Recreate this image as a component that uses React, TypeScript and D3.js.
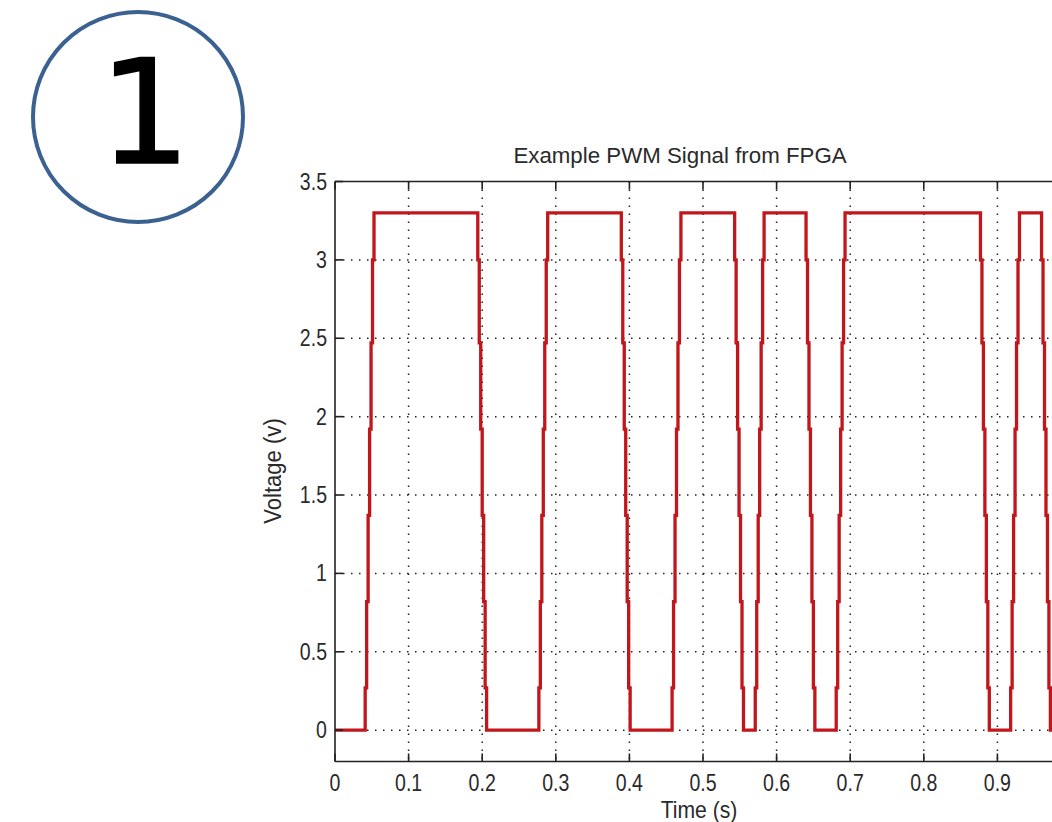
import * as d3 from 'd3';

// sample times (s) and voltage levels (v) of the PWM staircase
const times = [
  0,
  0.041, 0.043, 0.045, 0.047, 0.049, 0.051, 0.053,
  0.194, 0.196, 0.198, 0.200, 0.202, 0.204, 0.206,
  0.277, 0.279, 0.281, 0.283, 0.285, 0.287, 0.289,
  0.389, 0.391, 0.393, 0.395, 0.397, 0.399, 0.401,
  0.458, 0.460, 0.462, 0.464, 0.466, 0.468, 0.470,
  0.543, 0.545, 0.547, 0.549, 0.551, 0.553, 0.555,
  0.571, 0.573, 0.575, 0.577, 0.579, 0.581, 0.583,
  0.640, 0.642, 0.644, 0.646, 0.648, 0.650, 0.652,
  0.681, 0.683, 0.685, 0.687, 0.689, 0.691, 0.693,
  0.877, 0.879, 0.881, 0.883, 0.885, 0.887, 0.889,
  0.918, 0.920, 0.922, 0.924, 0.926, 0.928, 0.930,
  0.960, 0.962, 0.964, 0.966, 0.968, 0.970, 0.972,
  1.0,
];
const volts = [
  0,
  0.27, 0.82, 1.37, 1.92, 2.47, 3.0, 3.3,
  3.0, 2.47, 1.92, 1.37, 0.82, 0.27, 0,
  0.27, 0.82, 1.37, 1.92, 2.47, 3.0, 3.3,
  3.0, 2.47, 1.92, 1.37, 0.82, 0.27, 0,
  0.27, 0.82, 1.37, 1.92, 2.47, 3.0, 3.3,
  3.0, 2.47, 1.92, 1.37, 0.82, 0.27, 0,
  0.27, 0.82, 1.37, 1.92, 2.47, 3.0, 3.3,
  3.0, 2.47, 1.92, 1.37, 0.82, 0.27, 0,
  0.27, 0.82, 1.37, 1.92, 2.47, 3.0, 3.3,
  3.0, 2.47, 1.92, 1.37, 0.82, 0.27, 0,
  0.27, 0.82, 1.37, 1.92, 2.47, 3.0, 3.3,
  3.0, 2.47, 1.92, 1.37, 0.82, 0.27, 0,
  0,
];
const xTicks = [0, 0.1, 0.2, 0.3, 0.4, 0.5, 0.6, 0.7, 0.8, 0.9, 1];
const yTicks = [0, 0.5, 1, 1.5, 2, 2.5, 3, 3.5];

const W = 1052;
const H = 822;
const left = 335;
const right = 1071; // plot runs past the edge of the picture
const top = 181.5;
const bottom = 761.5;

const font = '"Liberation Sans", Arial, sans-serif';
const ink = '#2a2a2a';

// the source figure was squeezed sideways, so text is narrower than it is tall
function Label({ x, y, anchor = 'middle', size = 23, sx = 0.85, rotate = 0, children }: any) {
  return (
    <text transform={`translate(${x},${y}) rotate(${rotate}) scale(${sx},1)`}
      textAnchor={anchor} fontFamily={font} fontSize={size} fill={ink}>
      {children}
    </text>
  );
}

export default function App() {
  const x = d3.scaleLinear().domain([0, 1]).range([left, right]);
  const y = d3.scaleLinear().domain([-0.2, 3.5]).range([bottom, top]);

  const pts = times.map((t, i) => [t, volts[i]] as [number, number]);
  const line = d3.line<[number, number]>()
    .x(d => x(d[0]))
    .y(d => y(d[1]))
    .curve(d3.curveStepAfter);

  return (
    <svg width={W} height={H} style={{ position: 'absolute', left: 0, top: 0, background: '#fff' }}>
      <defs>
        <clipPath id="plot">
          <rect x={left} y={top} width={right - left} height={bottom - top} />
        </clipPath>
      </defs>

      {/* circled number */}
      <circle cx={138} cy={117} r={105} fill="none" stroke="#3b6191" strokeWidth={4} />
      <text x={145} y={163} textAnchor="middle" fontFamily='"DejaVu Sans", sans-serif'
        fontSize={145} fill="#000" stroke="#000" strokeWidth={1.5}>1</text>

      {/* grid */}
      <g stroke="#222" strokeWidth={1.5} strokeDasharray="1.5 6.5">
        {xTicks.filter(t => t > 0).map(t => (
          <line key={'gx' + t} x1={x(t)} x2={x(t)} y1={top} y2={bottom} />
        ))}
        {yTicks.filter(t => t < 3.5).map(t => (
          <line key={'gy' + t} x1={left} x2={right} y1={y(t)} y2={y(t)} />
        ))}
      </g>

      {/* signal */}
      <path d={line(pts) || ''} fill="none" stroke="#c0161c" strokeWidth={3.3}
        strokeLinejoin="miter" clipPath="url(#plot)" />

      {/* axes box and ticks */}
      <g stroke="#222" strokeWidth={1.6} fill="none">
        <line x1={left} x2={right} y1={top} y2={top} />
        <line x1={left} x2={right} y1={bottom} y2={bottom} />
        <line x1={left} x2={left} y1={top} y2={bottom} />
        {xTicks.map(t => (
          <g key={'tx' + t}>
            <line x1={x(t)} x2={x(t)} y1={bottom} y2={bottom - 8} />
            <line x1={x(t)} x2={x(t)} y1={top} y2={top + 8} />
          </g>
        ))}
        {yTicks.map(t => (
          <line key={'ty' + t} x1={left} x2={left + 8} y1={y(t)} y2={y(t)} />
        ))}
      </g>

      {xTicks.filter(t => x(t) < W - 10).map(t => (
        <Label key={'lx' + t} x={x(t)} y={791}>{String(t)}</Label>
      ))}
      {yTicks.map(t => (
        <Label key={'ly' + t} x={327} y={y(t) + 8} anchor="end">{String(t)}</Label>
      ))}

      <Label x={680} y={163} size={23} sx={0.97}>Example PWM Signal from FPGA</Label>
      <Label x={699} y={818} size={23} sx={0.92}>Time (s)</Label>
      <Label x={281} y={471} size={23} sx={0.96} rotate={-90}>Voltage (v)</Label>
    </svg>
  );
}
